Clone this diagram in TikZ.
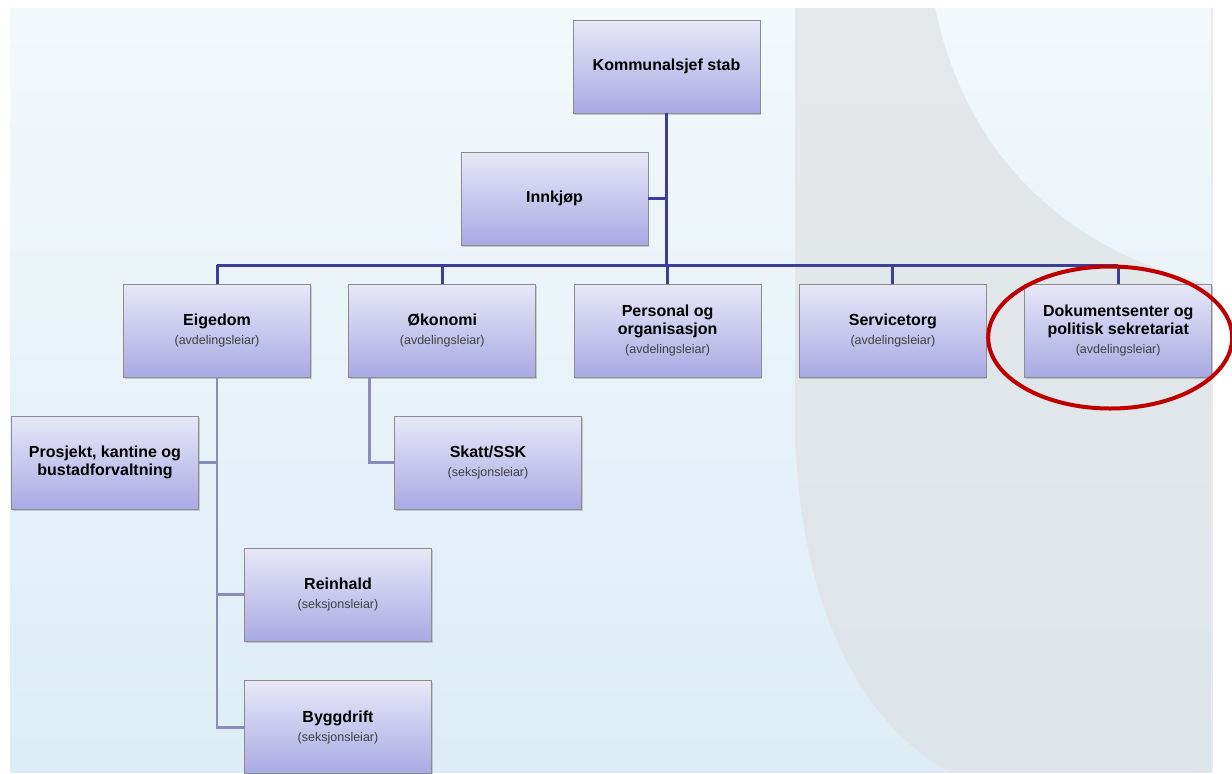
\documentclass[tikz,border=0pt]{standalone}
\usepackage{fontspec}
\setmainfont{Liberation Sans}
\usetikzlibrary{positioning,shadows}

\definecolor{boxtop}{HTML}{E8E8F8}
\definecolor{boxbot}{HTML}{A9A9E4}
\definecolor{linkdark}{HTML}{3D3D9A}
\definecolor{linklight}{HTML}{8C8CBA}
\definecolor{bgtop}{HTML}{F3F8FB}
\definecolor{bgbot}{HTML}{DCEDF6}
\definecolor{greytop}{HTML}{E5E8EA}
\definecolor{greybot}{HTML}{DDE4EA}
\definecolor{ringred}{HTML}{C00000}

% second line in a box: who leads the unit
\newcommand{\leiar}[1]{\\[1pt]{\normalfont\fontsize{12.5}{15}\selectfont\color{black!75}#1}}

\begin{document}
\begin{tikzpicture}[x=1pt,y=-1pt,node distance=37.5pt]
	\tikzstyle{unit}=[rectangle, draw=black!45, line width=0.8pt, top color=boxtop, bottom color=boxbot,
		minimum width=187pt, minimum height=93pt, inner sep=2pt, align=center,
		font=\bfseries\fontsize{16}{18}\selectfont,
		drop shadow={shadow xshift=1pt, shadow yshift=-2pt, opacity=0.35}]
	\tikzstyle{top}=[draw=linkdark, line width=3pt]
	\tikzstyle{sub}=[draw=linklight, line width=2.5pt]
	\tikzstyle{ring}=[draw=ringred, line width=4pt]

	% slide background
	\useasboundingbox (0,0) rectangle (1232,774);
	\fill[white] (0,0) rectangle (1232,774);
	\shade[top color=bgtop, bottom color=bgbot] (10,8) rectangle (1212,772);
	\shade[top color=greytop, bottom color=greybot] (795,8) -- (795,430) .. controls (800,620) and (870,730) .. (950,772)
		-- (1212,772) -- (1212,285) .. controls (1060,250) and (965,150) .. (935,8) -- cycle;
	\fill[black!8] (1211,8) rectangle (1213,772);

	\node[unit] (stab) at (666.5,66.5) {Kommunalsjef stab};
	\node[unit] (innkjop) at (554.5,198.5) {Innkjøp};

	\node[unit] (eigedom) at (217,330.5) {Eigedom\leiar{(avdelingsleiar)}};
	\node[unit] (okonomi) [right=of eigedom] {Økonomi\leiar{(avdelingsleiar)}};
	\node[unit] (personal) [right=of okonomi] {Personal og\\organisasjon\leiar{(avdelingsleiar)}};
	\node[unit] (service) [right=of personal] {Servicetorg\leiar{(avdelingsleiar)}};
	\node[unit] (dokument) [right=of service] {Dokumentsenter og\\politisk sekretariat\leiar{(avdelingsleiar)}};

	\node[unit] (prosjekt) at (105,462.5) {Prosjekt, kantine og\\bustadforvaltning};
	\node[unit] (skatt) at (488,462.5) {Skatt/SSK\leiar{(seksjonsleiar)}};
	\node[unit] (reinhald) at (338,594.5) {Reinhald\leiar{(seksjonsleiar)}};
	\node[unit] (byggdrift) [below=39pt of reinhald] {Byggdrift\leiar{(seksjonsleiar)}};

	\coordinate (bus) at (666.5,265);
	\draw[top] (stab.south) -- (bus);
	\draw[top] (innkjop.east) -- (stab.south |- innkjop.east);
	\draw[top] (eigedom.north |- bus) -- (dokument.north |- bus);
	\foreach \to in {eigedom,okonomi,personal,service,dokument}
		\draw[top] (\to.north |- bus) -- (\to.north);

	\draw[sub] (eigedom.south) |- (byggdrift.west);
	\draw[sub] (prosjekt.east) -- (eigedom.south |- prosjekt.east);
	\draw[sub] (eigedom.south |- reinhald.west) -- (reinhald.west);
	\draw[sub] ([xshift=21pt]okonomi.south west) |- (skatt.west);

	\draw[ring] ([xshift=-8pt,yshift=-7pt]dokument.center) ellipse [x radius=122pt, y radius=71pt];
\end{tikzpicture}
\end{document}
